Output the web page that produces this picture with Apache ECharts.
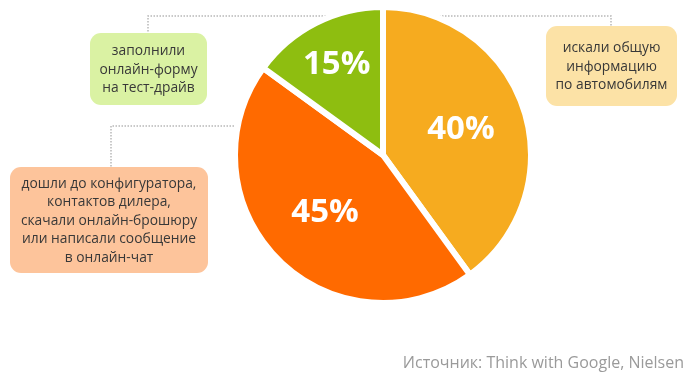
<!DOCTYPE html>
<html>
<head>
<meta charset="utf-8">
<script src="https://cdn.jsdelivr.net/npm/echarts@6/dist/echarts.min.js"></script>
<style>html,body{margin:0;padding:0;background:#fff}#c{width:700px;height:385px}</style>
</head>
<body>
<div id="c"></div>
<script>
const categories = [
  'искали общую\nинформацию\nпо автомобилям',
  'дошли до конфигуратора,\nконтактов дилера,\nскачали онлайн-брошюру\nили написали сообщение\nв онлайн-чат',
  'заполнили\nонлайн-форму\nна тест-драйв'
];
const values = [40, 45, 15];
const sourceText = 'Источник: Think with Google, Nielsen';

const sliceColors = ['#F6AB1F', '#FF6A00', '#8EBE10'];
const boxColors = ['#FCE2A6', '#FDC49B', '#DAF2A3'];
const font = '"Open Sans", "Noto Sans", sans-serif';

const chart = echarts.init(document.getElementById('c'), null, {renderer: 'canvas'});

// callout boxes: [x, y, w, h] and connector polylines
const boxes = [
  {rect: [546, 26, 131, 80], line: [[424, 16], [611, 16], [611, 26]]},
  {rect: [10, 167, 198, 106], line: [[243, 126], [111, 126], [111, 167]]},
  {rect: [90, 33, 117, 72], line: [[338, 16], [148, 16], [148, 33]]}
];

const graphics = [];
boxes.forEach((b, i) => {
  const [x, y, w, h] = b.rect;
  graphics.push({
    type: 'polyline', silent: true,
    shape: {points: b.line},
    style: {stroke: '#b8b8b8', lineWidth: 1.5, lineDash: [1.5, 1.5], fill: null}
  });
  graphics.push({
    type: 'rect', silent: true,
    shape: {x: x, y: y, width: w, height: h, r: 11},
    style: {fill: boxColors[i]}
  });
  graphics.push({
    type: 'text', silent: true,
    style: {
      text: categories[i],
      x: x + w / 2, y: y + h / 2 + 1,
      align: 'center', verticalAlign: 'middle',
      fill: '#383838', font: '13.8px ' + font, lineHeight: 18.5
    }
  });
});
graphics.push({
  type: 'text', silent: true,
  style: {
    text: sourceText, x: 684, y: 363,
    align: 'right', verticalAlign: 'middle',
    fill: '#9a9a9a', font: '16px ' + font
  }
});

chart.setOption({
  animation: false,
  color: sliceColors,
  graphic: graphics,
  series: [{
    type: 'pie',
    center: [383, 155],
    radius: [0, 148],
    startAngle: 90,
    clockwise: true,
    silent: true,
    itemStyle: {borderColor: '#fff', borderWidth: 6},
    label: {
      show: true, position: 'inside',
      formatter: p => p.value + '%',
      color: '#fff', fontFamily: font, fontWeight: 'bold', fontSize: 33
    },
    labelLine: {show: false},
    labelLayout: function (params) {
      // push labels a bit outward along the slice bisector
      const cx = 383, cy = 155;
      const r = params.labelRect;
      const lx = r.x + r.width / 2, ly = r.y + r.height / 2;
      const dx = lx - cx, dy = ly - cy;
      const d = Math.sqrt(dx * dx + dy * dy) || 1;
      const target = params.dataIndex === 2 ? 102 : 82;
      const k = target / d - 1;
      return {dx: dx * k, dy: dy * k};
    },
    data: values.map((v, i) => ({name: categories[i], value: v}))
  }]
});
</script>
</body>
</html>
